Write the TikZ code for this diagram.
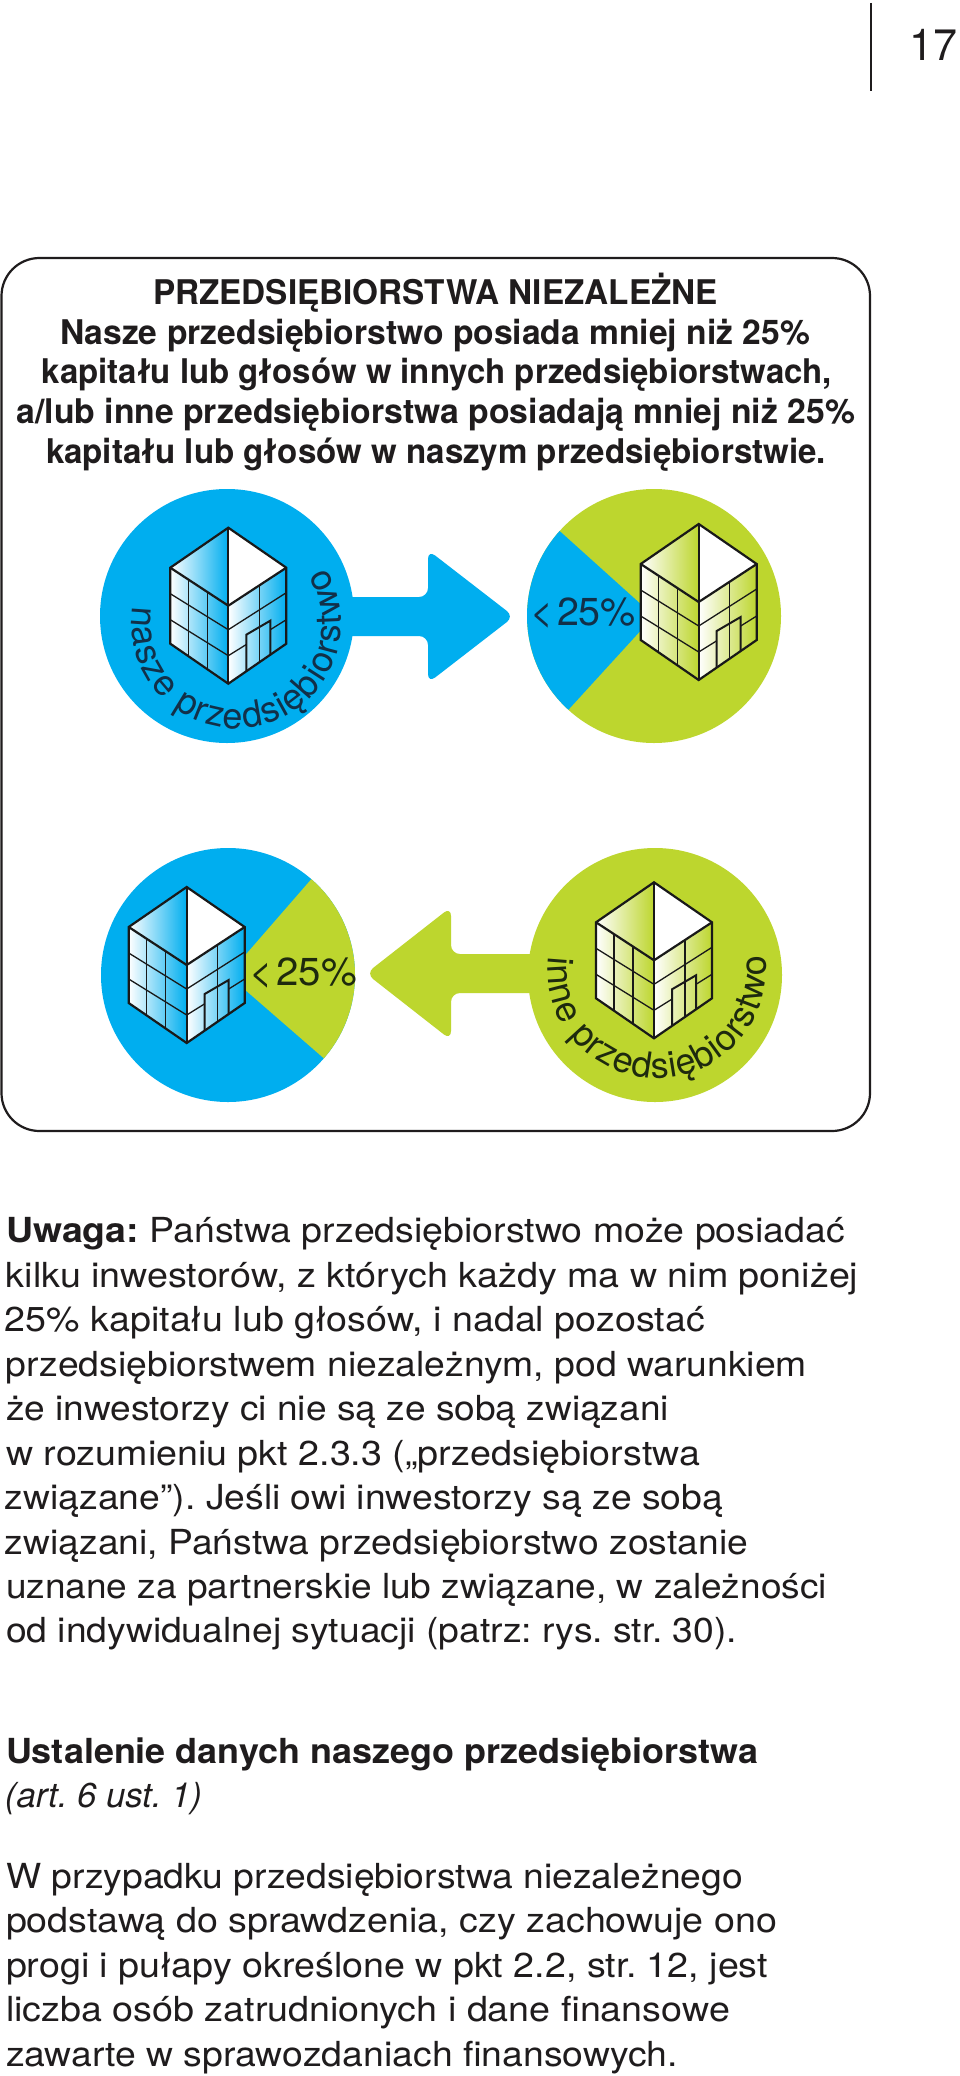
\documentclass[tikz,border=0pt]{standalone}
\usepackage{fontspec}
\usepackage{graphicx}
\setmainfont{TeX Gyre Heros}
\usetikzlibrary{decorations.text}
\AtBeginDocument{\frenchspacing}
\definecolor{cblue}{HTML}{00AEEF}
\definecolor{cgreen}{HTML}{BDD62E}
\definecolor{ink}{HTML}{1F1C1D}
\definecolor{bluetxt}{HTML}{123049}
\definecolor{greentxt}{HTML}{1E2A0E}
\newlength\fitw
\newcommand\fitbox[2]{\settowidth\fitw{#2}\pgfmathsetmacro\fitf{(#1)/\fitw}\scalebox{\fitf}[1]{#2}}
\tikzset{
  x=1pt,y=1pt,
  bodytxt/.style={font=\fontsize{34.5}{40}\selectfont,text=ink,inner sep=0pt,outer sep=0pt,anchor=base west},
  boxtxt/.style={font=\fontsize{34}{40}\selectfont\bfseries,text=ink,inner sep=0pt,outer sep=0pt,anchor=base west},
  pct/.style={font=\fontsize{39}{40}\selectfont,inner sep=0pt,outer sep=0pt,anchor=base west},
  disc/.style={circle,inner sep=0pt,outer sep=0pt,minimum size=254pt},
  blockarrow/.style={rounded corners=9pt},
  edgeln/.style={draw=black!90,line width=2.2pt,line join=miter},
  gridln/.style={draw=black!90,line width=1.3pt},
  doorln/.style={draw=black!90,line width=2pt,line join=miter}
}
\newcommand\tl[6]{\node[#1] (#2) at (#3,-#5) {\fitbox{#4-#3}{#6}};}
\newcommand\building[3]{%
\begin{scope}[shift={(#1,-#2)},yscale=-1]
  \shade[left color=white,right color=#3] (0,0) -- (-58,40) -- (0,78) -- cycle;
  \fill[white] (0,0) -- (58,40) -- (0,78) -- cycle;
  \shade[left color=white,right color=#3] (-58,40) -- (0,78) -- (0,156) -- (-58,116) -- cycle;
  \shade[left color=white,right color=#3] (0,78) -- (58,40) -- (58,116) -- (0,156) -- cycle;
  \draw[gridln] (-58,66) -- (0,102) -- (58,65);
  \draw[gridln] (-58,92) -- (0,128);
  \draw[gridln] (0,128) -- (18,116.8);
  \draw[gridln] (42,102) -- (58,92);
  \draw[gridln] (-40,52) -- (-40,128);
  \draw[gridln] (-21,64) -- (-21,141.5);
  \draw[gridln] (31,57.7) -- (31,134.6);
  \draw[doorln] (18,143.6) -- (18,107) -- (42,93) -- (42,127);
  \draw[edgeln] (0,0) -- (-58,40) -- (-58,116) -- (0,156) -- (58,116) -- (58,40) -- cycle;
  \draw[edgeln] (-58,40) -- (0,78) -- (58,40);
  \draw[edgeln] (0,0) -- (0,156);
\end{scope}}
\begin{document}
\begin{tikzpicture}
\useasboundingbox (0,0) rectangle (960,-2076);
\fill[white] (0,0) rectangle (960,-2076);
% page number
\coordinate (ruleTop) at (871,-3);
\coordinate (ruleBot) at (871,-91);
\draw[draw=ink,line width=1.5pt] (ruleTop) -- (ruleBot);
\node[inner sep=0pt,outer sep=0pt,anchor=base west,font=\fontsize{44}{46}\selectfont,text=ink] (pg) at (909,-61) {\fitbox{48}{17}};
% frame
\draw[draw=ink,line width=2.2pt,rounded corners=38pt] (1.5,-258) rectangle (870,-1131);
% frame text
\tl{boxtxt}{h0}{153}{718}{304}{PRZEDSIĘBIORSTWA NIEZALEŻNE}
\tl{boxtxt}{h1}{60}{810}{344}{Nasze przedsiębiorstwo posiada mniej niż 25\%}
\tl{boxtxt}{h2}{41.7}{832}{383.5}{kapitału lub głosów w innych przedsiębiorstwach,}
\tl{boxtxt}{h3}{16.5}{855}{423.5}{a/lub inne przedsiębiorstwa posiadają mniej niż 25\%}
\tl{boxtxt}{h4}{46}{826}{463.5}{kapitału lub głosów w naszym przedsiębiorstwie.}
% top row
\node[disc,fill=cblue] (c1) at (227,-616) {};
\node[disc,fill=cgreen] (c2) at (654,-616) {};
\coordinate (tipA) at (514,-616.5);
\fill[cblue,blockarrow] (c1 |- 0,-597) -- (428,-597) -- (428,-550) -- (tipA) -- (428,-683) -- (428,-636) -- (c1 |- 0,-636) -- cycle;
\fill[cblue] (c2.center) -- ++(138:127) arc (138:227.6:127) -- cycle;
\building{228.3}{527.7}{cblue}
\building{698.7}{524}{cgreen}
\coordinate (arcA) at (236.4,-623.8);
\path[decorate,decoration={text along path,text color=bluetxt,text align={fit to path},
  text={|\fontsize{36}{36}\selectfont|nasze przedsiębiorstwo}}]
  (arcA) ++(170.5:104.7) arc (170.5:392:104.7);
\tl{pct,text=bluetxt}{p1}{530}{636}{625}{<\hspace{4pt}25\%}
% bottom row
\node[disc,fill=cblue] (c3) at (228,-975) {};
\node[disc,fill=cgreen] (c4) at (655,-975) {};
\coordinate (tipB) at (366,-973.5);
\fill[cgreen,blockarrow] (c4 |- 0,-954) -- (451,-954) -- (451,-907) -- (tipB) -- (451,-1040) -- (451,-993) -- (c4 |- 0,-993) -- cycle;
\fill[cgreen] (c3.center) -- ++(49:127) arc (49:-41:127) -- cycle;
\building{186.7}{887}{cblue}
\building{654}{882.3}{cgreen}
\coordinate (arcB) at (656.9,-969);
\path[decorate,decoration={text along path,text color=greentxt,text align={fit to path},
  text={|\fontsize{36}{36}\selectfont|inne przedsiębiorstwo}}]
  (arcB) ++(173.5:109.3) arc (173.5:367:109.3);
\tl{pct,text=greentxt}{p2}{249}{357}{985}{<\hspace{4pt}25\%}
% body
\tl{bodytxt}{b1}{6}{845}{1242.7}{{\bfseries Uwaga:} Państwa przedsiębiorstwo może posiadać}
\tl{bodytxt}{b2}{6}{858.3}{1287.2}{kilku inwestorów, z których każdy ma w nim poniżej}
\tl{bodytxt}{b3}{5}{705}{1331.7}{25\% kapitału lub głosów, i nadal pozostać}
\tl{bodytxt}{b4}{6}{807}{1376.2}{przedsiębiorstwem niezależnym, pod warunkiem}
\tl{bodytxt}{b5}{6}{669}{1420.7}{że inwestorzy ci nie są ze sobą związani}
\tl{bodytxt}{b6}{6}{700}{1465}{w rozumieniu pkt 2.3.3 („przedsiębiorstwa}
\tl{bodytxt}{b7}{5}{723}{1509.3}{związane”). Jeśli owi inwestorzy są ze sobą}
\tl{bodytxt}{b8}{5}{748}{1554}{związani, Państwa przedsiębiorstwo zostanie}
\tl{bodytxt}{b9}{6}{827}{1598.5}{uznane za partnerskie lub związane, w zależności}
\tl{bodytxt}{b10}{6}{737}{1642.7}{od indywidualnej sytuacji (patrz: rys. str. 30).}
\tl{bodytxt}{s1}{6}{758}{1763.3}{\bfseries Ustalenie danych naszego przedsiębiorstwa}
\tl{bodytxt}{s2}{5}{202}{1807}{\itshape (art. 6 ust. 1)}
\tl{bodytxt}{d1}{6}{743}{1888}{W przypadku przedsiębiorstwa niezależnego}
\tl{bodytxt}{d2}{6}{777}{1932.7}{podstawą do sprawdzenia, czy zachowuje ono}
\tl{bodytxt}{d3}{6}{768}{1977}{progi i pułapy określone w pkt 2.2, str. 12, jest}
\tl{bodytxt}{d4}{6}{730}{2021.7}{liczba osób zatrudnionych i dane finansowe}
\tl{bodytxt}{d5}{6}{678}{2066}{zawarte w sprawozdaniach finansowych.}
\end{tikzpicture}
\end{document}
